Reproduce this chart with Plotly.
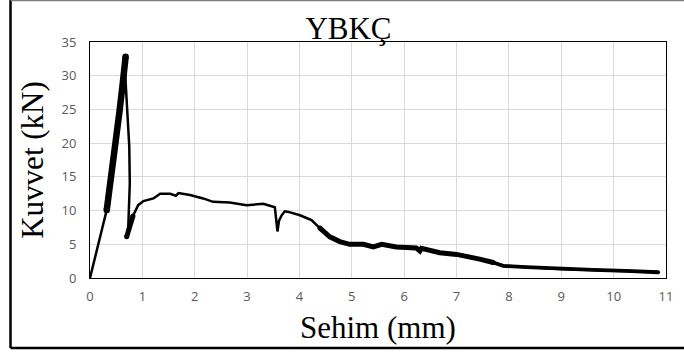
import plotly.graph_objects as go

# ---- data ----
deflection_mm = [0.0, 0.05, 0.15, 0.25, 0.32, 0.40, 0.48, 0.56, 0.62, 0.66, 0.68,
                 0.67, 0.71, 0.75, 0.76, 0.75, 0.73, 0.70,
                 0.73, 0.77, 0.82, 0.92, 1.02, 1.15, 1.21, 1.34, 1.53, 1.64, 1.69,
                 1.91, 2.16, 2.35, 2.67, 2.99, 3.31, 3.53, 3.58, 3.61, 3.66, 3.72,
                 3.79, 4.01, 4.23, 4.39, 4.58, 4.77, 4.96, 5.22, 5.41, 5.57, 5.85,
                 6.23, 6.30, 6.33, 6.42, 6.68, 7.00, 7.25, 7.44, 7.70, 7.89, 8.33,
                 8.97, 9.61, 10.24, 10.85]
load_kN = [0.0, 1.5, 4.8, 7.9, 10.1, 14.5, 19.5, 24.5, 28.5, 31.5, 32.8,
           30.5, 25.0, 19.5, 14.0, 10.0, 7.5, 6.1,
           7.0, 8.3, 9.2, 10.8, 11.4, 11.6, 11.8, 12.5, 12.5, 12.2, 12.6,
           12.3, 11.8, 11.3, 11.2, 10.8, 11.0, 10.5, 6.9, 8.5, 9.3, 9.9,
           9.8, 9.3, 8.6, 7.4, 6.1, 5.4, 5.0, 5.0, 4.6, 5.0, 4.6,
           4.45, 4.0, 4.4, 4.25, 3.75, 3.5, 3.0, 2.8, 2.3, 1.8, 1.6,
           1.35, 1.2, 1.05, 0.85]

x_ticks = list(range(0, 12))
y_ticks = list(range(0, 40, 5))
title_text = "YBKÇ"
x_title = "Sehim (mm)"
y_title = "Kuvvet (kN)"

fig = go.Figure()
fig.add_trace(go.Scatter(x=deflection_mm, y=load_kN, mode="lines",
                         line=dict(color="black", width=2.5), hoverinfo="skip"))

# thicker bands (cyclic / noisy portions of the record)
for (a, b, w) in [(4, 11, 6.5), (17, 21, 5), (43, 60, 5), (59, 66, 3.8)]:
    fig.add_trace(go.Scatter(x=deflection_mm[a:b], y=load_kN[a:b], mode="lines",
                             line=dict(color="black", width=w), hoverinfo="skip"))
    # rounded ends
    fig.add_trace(go.Scatter(x=[deflection_mm[a], deflection_mm[b - 1]],
                             y=[load_kN[a], load_kN[b - 1]], mode="markers",
                             marker=dict(color="black", size=w, line=dict(width=0)),
                             hoverinfo="skip"))

axis_common = dict(showgrid=True, gridcolor="#d9d9d9", gridwidth=1,
                   showline=True, linecolor="black", linewidth=1, mirror=True,
                   zeroline=False, ticks="",
                   tickfont=dict(family="Open Sans", size=13, color="#595959"))

fig.update_xaxes(range=[0, 11], tickvals=x_ticks, ticklabelstandoff=6, **axis_common)
fig.update_yaxes(range=[0, 35], tickvals=y_ticks, ticklabelstandoff=10,
                 title=dict(text=y_title, font=dict(family="Liberation Serif", size=31, color="black"),
                            standoff=8),
                 **axis_common)

fig.update_layout(
    width=684, height=356,
    margin=dict(l=90, r=18, t=42, b=78),
    paper_bgcolor="white", plot_bgcolor="white",
    showlegend=False,
    title=dict(text=title_text, x=0.5095, xref="container", xanchor="center",
               y=0.92, yref="container", yanchor="middle",
               font=dict(family="Liberation Serif", size=31, color="black")),
    annotations=[
        dict(text=x_title, xref="paper", yref="paper", x=0.5, y=-0.2097,
             xanchor="center", yanchor="middle", showarrow=False,
             font=dict(family="Liberation Serif", size=31, color="black")),
    ],
    shapes=[
        dict(type="line", xref="paper", yref="paper", x0=-0.1380, x1=-0.1380, y0=-0.2966, y1=1.18,
             line=dict(color="black", width=2.5)),
        dict(type="line", xref="paper", yref="paper", x0=-0.1380, x1=1.05, y0=-0.2966, y1=-0.2966,
             line=dict(color="black", width=2.5)),
        dict(type="line", xref="paper", yref="paper", x0=-0.1380, x1=1.05, y0=1.1758, y1=1.1758,
             line=dict(color="#7f7f7f", width=1.5)),
    ],
)

fig.write_html("out.html", config={"displayModeBar": False},
               post_script="document.body.style.margin='0';document.body.style.overflow='hidden';")
